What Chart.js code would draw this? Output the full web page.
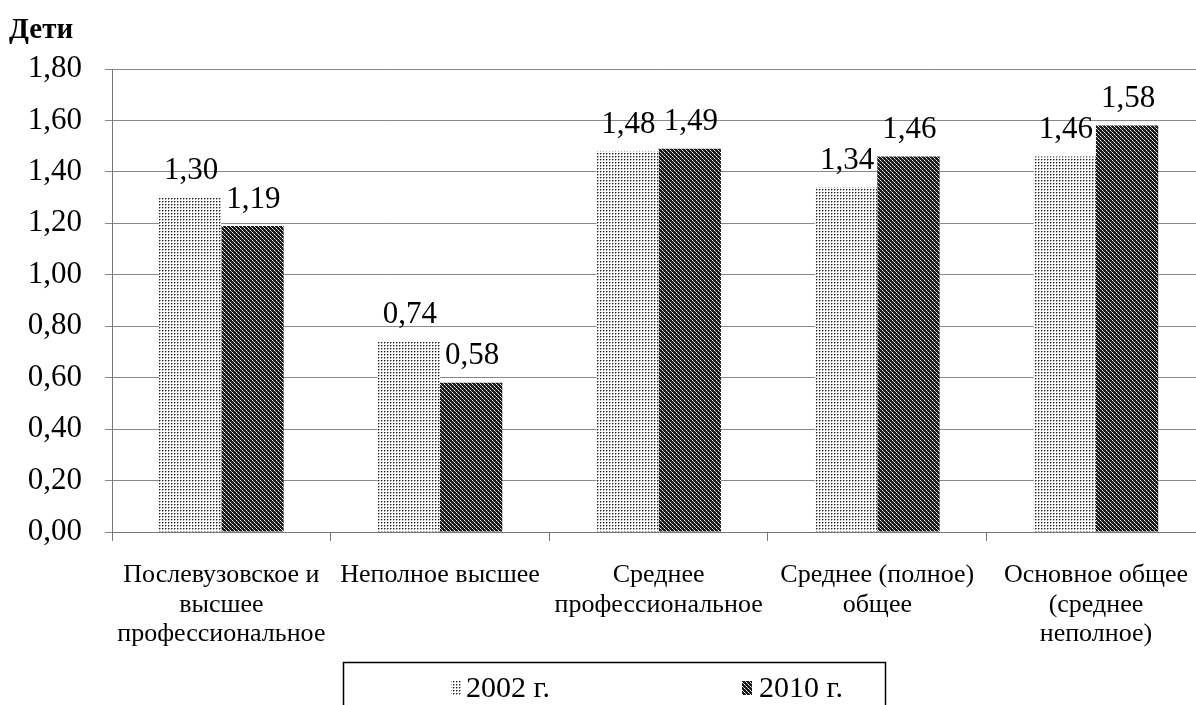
<!DOCTYPE html>
<html>
<head>
    <title>Дети</title>
    <script src="https://cdn.jsdelivr.net/npm/chart.js@4"></script>
    <style>
        body { margin: 0; background: #fff; overflow: hidden; }
    </style>
</head>
<body>
    <canvas id="childrenChart" width="1208" height="705"></canvas>
    <script>
        const categories = [
            ['Послевузовское и', 'высшее', 'профессиональное'],
            ['Неполное высшее'],
            ['Среднее', 'профессиональное'],
            ['Среднее (полное)', 'общее'],
            ['Основное общее', '(среднее', 'неполное)']
        ];
        const seriesNames = ['2002 г.', '2010 г.'];
        const values2002 = [1.30, 0.74, 1.48, 1.34, 1.46];
        const values2010 = [1.19, 0.58, 1.49, 1.46, 1.58];

        const serif = '"Liberation Serif", "Times New Roman", serif';

        // light dotted fill for 2002
        function dotPattern() {
            const c = document.createElement('canvas');
            c.width = 3; c.height = 3;
            const g = c.getContext('2d');
            g.fillStyle = '#fff';
            g.fillRect(0, 0, 3, 3);
            g.fillStyle = '#222';
            g.fillRect(0, 0, 1, 1);
            g.fillStyle = '#999';
            g.fillRect(1, 0, 1, 1);
            g.fillRect(0, 1, 1, 1);
            return g.createPattern(c, 'repeat');
        }
        // dark checkered fill for 2010
        function checkPattern() {
            const c = document.createElement('canvas');
            c.width = 4; c.height = 4;
            const g = c.getContext('2d');
            g.fillStyle = '#1a1a1a';
            g.fillRect(0, 0, 4, 4);
            g.fillStyle = '#fff';
            g.fillRect(0, 0, 1, 1);
            g.fillRect(2, 2, 1, 1);
            g.fillStyle = '#aaa';
            g.fillRect(1, 1, 1, 1);
            g.fillRect(3, 3, 1, 1);
            return g.createPattern(c, 'repeat');
        }

        const fills = [dotPattern(), checkPattern()];

        const valueLabels = {
            id: 'valueLabels',
            afterDatasetsDraw(chart) {
                const ctx = chart.ctx;
                ctx.save();
                ctx.font = '31px ' + serif;
                ctx.fillStyle = '#000';
                ctx.textAlign = 'center';
                ctx.textBaseline = 'bottom';
                chart.data.datasets.forEach((ds, i) => {
                    chart.getDatasetMeta(i).data.forEach((bar, j) => {
                        const txt = ds.data[j].toFixed(2).replace('.', ',');
                        ctx.fillText(txt, bar.x + 1, bar.y - 11);
                    });
                });
                ctx.restore();
            }
        };

        const extras = {
            id: 'extras',
            afterDraw(chart) {
                const ctx = chart.ctx;
                ctx.save();
                // axis title
                ctx.font = 'bold 29px ' + serif;
                ctx.fillStyle = '#000';
                ctx.textAlign = 'left';
                ctx.textBaseline = 'alphabetic';
                ctx.fillText('Дети', 9, 38);

                // legend box
                ctx.strokeStyle = '#000';
                ctx.lineWidth = 1.5;
                ctx.strokeRect(343.5, 662.5, 542, 60);
                ctx.font = '30px ' + serif;
                ctx.textBaseline = 'middle';
                const items = [[451, 466], [742, 759]];
                seriesNames.forEach((name, i) => {
                    ctx.fillStyle = fills[i];
                    ctx.fillRect(items[i][0], 681, 10, 14);
                    ctx.fillStyle = '#000';
                    ctx.fillText(name, items[i][1], 689);
                });
                ctx.restore();
            }
        };

        const bgWhite = {
            id: 'bgWhite',
            beforeDraw(chart) {
                const ctx = chart.ctx;
                ctx.save();
                ctx.fillStyle = '#fff';
                ctx.fillRect(0, 0, chart.width, chart.height);
                ctx.restore();
            }
        };

        const ctx = document.getElementById('childrenChart').getContext('2d');
        const chart = new Chart(ctx, {
            type: 'bar',
            data: {
                labels: categories,
                datasets: [
                    { label: seriesNames[0], data: values2002, backgroundColor: fills[0], borderWidth: 0 },
                    { label: seriesNames[1], data: values2010, backgroundColor: fills[1], borderWidth: 0 }
                ]
            },
            options: {
                responsive: false,
                animation: false,
                devicePixelRatio: 1,
                categoryPercentage: 0.57,
                barPercentage: 1.0,
                layout: { padding: { top: 69, right: 0, bottom: 0, left: 0 } },
                plugins: {
                    legend: { display: false },
                    tooltip: { enabled: false }
                },
                scales: {
                    x: {
                        grid: {
                            offset: true,
                            drawOnChartArea: false,
                            drawTicks: true,
                            tickLength: 9,
                            color: '#777'
                        },
                        border: { color: '#777', width: 1 },
                        ticks: {
                            font: { family: serif, size: 26, lineHeight: 1.12 },
                            color: '#000',
                            padding: 20,
                            maxRotation: 0,
                            autoSkip: false
                        },
                        afterFit(scale) { scale.height = 173; }
                    },
                    y: {
                        min: 0,
                        max: 1.8,
                        grid: {
                            color: '#888',
                            drawTicks: true,
                            tickLength: 7
                        },
                        border: { color: '#777', width: 1 },
                        ticks: {
                            stepSize: 0.2,
                            font: { family: serif, size: 31 },
                            color: '#000',
                            padding: 23,
                            callback: v => v.toFixed(2).replace('.', ',')
                        },
                        afterFit(scale) { scale.width = 112; }
                    }
                }
            },
            plugins: [bgWhite, valueLabels, extras]
        });
    </script>
</body>
</html>
